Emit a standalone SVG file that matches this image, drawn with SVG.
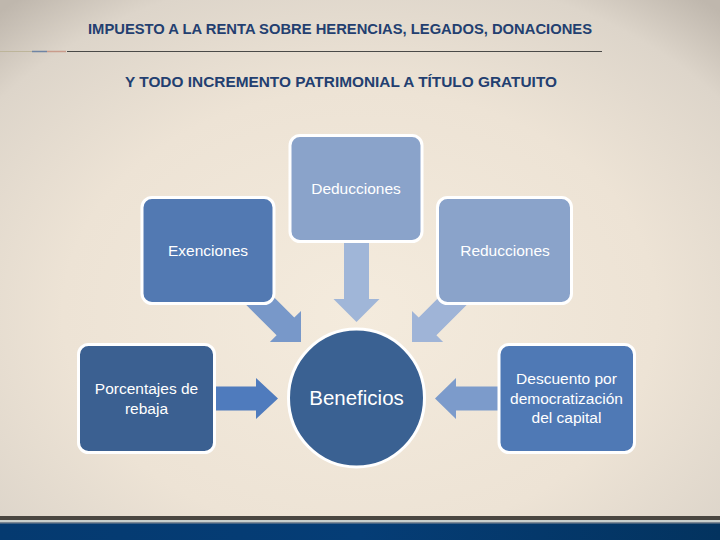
<svg xmlns="http://www.w3.org/2000/svg" width="720" height="540" viewBox="0 0 720 540">
  <defs>
    <radialGradient id="bg" cx="50%" cy="58%" r="75%">
      <stop offset="0" stop-color="#f4ebdd"/>
      <stop offset="0.55" stop-color="#ede3d5"/>
      <stop offset="0.85" stop-color="#ddd5ca"/>
      <stop offset="1" stop-color="#bfb7ad"/>
    </radialGradient>
    <linearGradient id="band" x1="0" y1="0" x2="1" y2="0">
      <stop offset="0" stop-color="#053a70"/>
      <stop offset="0.5" stop-color="#053d76"/>
      <stop offset="1" stop-color="#03335f"/>
    </linearGradient>
    <style>
      .title { font-family: "Liberation Sans", Arial, sans-serif; font-weight: bold; font-size: 15px; fill: #233f70; }
      .box { stroke: #ffffff; stroke-width: 3; }
      .lbl { font-family: "Liberation Sans", Arial, sans-serif; font-size: 15.5px; fill: #ffffff; text-anchor: middle; }
      .big { font-family: "Liberation Sans", Arial, sans-serif; font-size: 20.5px; fill: #ffffff; text-anchor: middle; }
    </style>
  </defs>

  <!-- background -->
  <rect x="0" y="0" width="720" height="540" fill="url(#bg)"/>

  <!-- header -->
  <text class="title" x="340" y="34" text-anchor="middle" textLength="504" lengthAdjust="spacingAndGlyphs">IMPUESTO A LA RENTA SOBRE HERENCIAS, LEGADOS, DONACIONES</text>
  <line x1="0" y1="51.5" x2="32" y2="51.5" stroke="#bdb59a" stroke-width="1"/>
  <line x1="32" y1="51.5" x2="47" y2="51.5" stroke="#6f84a3" stroke-width="1.5"/>
  <line x1="47" y1="51.5" x2="66" y2="51.5" stroke="#c99c8c" stroke-width="1.5"/>
  <line x1="67" y1="51.5" x2="602" y2="51.5" stroke="#4a4a48" stroke-width="1"/>
  <text class="title" x="341" y="87" text-anchor="middle" textLength="432" lengthAdjust="spacingAndGlyphs">Y TODO INCREMENTO PATRIMONIAL A TÍTULO GRATUITO</text>

  <!-- bottom bands -->
  <rect x="0" y="516" width="720" height="4" fill="#4a4640"/>
  <rect x="0" y="520" width="720" height="2.5" fill="#c9cfcc"/>
  <rect x="0" y="522.5" width="720" height="1" fill="#223a5a"/>
  <rect x="0" y="523.5" width="720" height="16.5" fill="url(#band)"/>

  <!-- connectors -->
  <g id="connectors">
    <polygon id="arrow-deducciones" fill="#a0b6d8" transform="translate(356.5,322) rotate(90)" points="-85,-12.5 -23,-12.5 -23,-23 0,0 -23,23 -23,12.5 -85,12.5"/>
    <polygon id="arrow-exenciones" fill="#7898c9" transform="translate(301,342) rotate(45)" points="-80,-12.5 -22,-12.5 -22,-22 0,0 -22,22 -22,12.5 -80,12.5"/>
    <polygon id="arrow-reducciones" fill="#9fb4d7" transform="translate(412,342) rotate(135)" points="-80,-12.5 -22,-12.5 -22,-22 0,0 -22,22 -22,12.5 -80,12.5"/>
    <polygon id="arrow-porcentajes" fill="#4f7bbd" transform="translate(278,398.5)" points="-63,-12 -22,-12 -22,-20.5 0,0 -22,20.5 -22,12 -63,12"/>
    <polygon id="arrow-descuento" fill="#7c9bcb" transform="translate(435,398.5) rotate(180)" points="-66,-12 -21,-12 -21,-20.5 0,0 -21,20.5 -21,12 -66,12"/>
  </g>

  <!-- nodes -->
  <g id="node-deducciones">
    <rect class="box" x="290" y="135.5" width="132" height="106" rx="10" fill="#8aa3ca"/>
    <text class="lbl" x="356" y="194">Deducciones</text>
  </g>
  <g id="node-exenciones">
    <rect class="box" x="142" y="197.5" width="132" height="106" rx="10" fill="#5279b2"/>
    <text class="lbl" x="208" y="256">Exenciones</text>
  </g>
  <g id="node-reducciones">
    <rect class="box" x="437.5" y="197.5" width="134" height="106" rx="10" fill="#8aa3ca"/>
    <text class="lbl" x="505" y="256">Reducciones</text>
  </g>
  <g id="node-porcentajes">
    <rect class="box" x="78.5" y="344.5" width="136" height="108" rx="10" fill="#3b6091"/>
    <text class="lbl" x="146.5" y="394">Porcentajes de</text>
    <text class="lbl" x="146.5" y="414">rebaja</text>
  </g>
  <g id="node-descuento">
    <rect class="box" x="499" y="344.5" width="135.5" height="108" rx="10" fill="#4f79b5"/>
    <text class="lbl" x="566.5" y="384">Descuento por</text>
    <text class="lbl" x="566.5" y="404">democratización</text>
    <text class="lbl" x="566.5" y="423">del capital</text>
  </g>
  <g id="node-beneficios">
    <ellipse class="box" cx="356.5" cy="398" rx="68" ry="69" fill="#3a6192"/>
    <text class="big" x="356.5" y="405">Beneficios</text>
  </g>
</svg>
